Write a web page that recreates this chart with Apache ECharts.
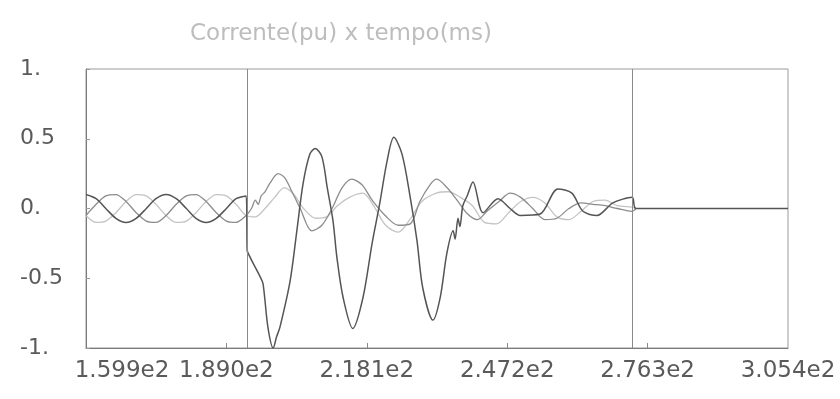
<!DOCTYPE html>
<html>
<head>
<meta charset="utf-8">
<script src="https://cdn.jsdelivr.net/npm/echarts@6/dist/echarts.min.js"></script>
<style>
  html, body { margin: 0; padding: 0; background: #fff; }
  #main { width: 840px; height: 399px; }
</style>
</head>
<body>
<div id="main"></div>
<script>
// tempo (ms) x corrente (pu)
var phaseA = [
  [159.9, 0.10], [162.0, 0.07], [164.0, 0.00], [166.1, -0.07], [168.2, -0.10], [170.3, -0.07],
  [172.4, 0.00], [174.4, 0.07], [176.5, 0.10], [178.6, 0.07], [180.7, 0.00], [182.7, -0.07],
  [184.8, -0.10], [186.9, -0.07], [189.0, 0.00], [191.0, 0.07], [193.1, 0.09],
  [193.3, -0.30], [193.5, -0.32], [194.5, -0.39], [196.0, -0.49], [196.6, -0.54], [197.6, -0.85],
  [198.7, -1.00], [199.4, -0.92], [200.1, -0.85], [202.2, -0.52], [203.6, -0.16], [204.9, 0.18],
  [206.3, 0.39], [207.4, 0.43], [208.8, 0.37], [209.9, 0.15], [211.1, -0.09], [211.9, -0.35],
  [213.2, -0.64], [215.2, -0.86], [217.3, -0.64], [219.2, -0.25], [220.8, 0.04], [222.3, 0.34],
  [223.7, 0.51], [225.4, 0.39], [227.1, 0.08], [228.5, -0.23], [229.7, -0.57], [231.8, -0.80],
  [233.3, -0.64], [234.7, -0.32], [236.0, -0.16], [236.4, -0.22], [237.0, -0.07], [237.4, -0.13],
  [238.0, 0.02], [238.9, 0.09], [240.1, 0.19], [242.2, -0.03], [245.3, 0.07], [247.8, 0.00],
  [249.9, -0.05], [254.0, -0.04], [257.7, 0.14], [260.6, 0.11], [262.9, -0.02], [265.8, -0.05],
  [269.1, 0.04], [273.1, 0.08], [273.9, 0.00], [305.4, 0.00]
];
var phaseB = [
  [159.9, -0.05], [162.0, 0.03], [164.0, 0.09], [166.1, 0.10], [168.2, 0.05], [170.3, -0.03],
  [172.4, -0.09], [174.4, -0.10], [176.5, -0.05], [178.6, 0.03], [180.7, 0.09], [182.7, 0.10],
  [184.8, 0.05], [186.9, -0.03], [189.0, -0.09], [191.0, -0.10], [193.1, -0.05],
  [194.2, 0.00], [195.0, 0.06], [195.6, 0.03], [196.2, 0.09], [197.0, 0.12], [198.0, 0.18],
  [199.7, 0.25], [201.1, 0.22], [202.6, 0.12], [204.3, 0.00], [206.7, -0.16], [208.8, -0.12],
  [210.9, 0.00], [213.0, 0.15], [215.0, 0.21], [217.1, 0.17], [219.2, 0.06], [221.9, -0.05],
  [224.6, -0.12], [227.1, -0.11], [229.1, 0.05], [231.2, 0.17], [232.6, 0.21], [234.7, 0.15],
  [236.8, 0.06], [239.0, -0.04], [241.0, -0.08], [243.0, -0.02], [245.5, 0.05], [247.8, 0.11],
  [250.0, 0.08], [252.5, 0.00], [255.0, -0.08], [257.5, -0.07], [260.0, 0.00], [262.5, 0.04],
  [265.0, 0.03], [267.5, 0.02], [270.0, 0.00], [273.1, -0.02], [273.9, 0.00]
];
var phaseC = [
  [159.9, -0.05], [162.0, -0.10], [164.0, -0.09], [166.1, -0.03], [168.2, 0.05], [170.3, 0.10],
  [172.4, 0.09], [174.4, 0.03], [176.5, -0.05], [178.6, -0.10], [180.7, -0.09], [182.7, -0.03],
  [184.8, 0.05], [186.9, 0.10], [189.0, 0.09], [191.0, 0.03], [193.1, -0.05],
  [195.0, -0.06], [197.0, 0.00], [199.0, 0.08], [201.0, 0.15], [203.0, 0.10], [205.0, 0.00],
  [207.5, -0.07], [209.8, -0.06], [212.0, 0.02], [214.5, 0.08], [217.3, 0.11], [219.5, 0.02],
  [222.0, -0.12], [224.6, -0.17], [227.0, -0.08], [229.5, 0.05], [232.5, 0.11], [235.0, 0.12],
  [237.5, 0.08], [240.0, 0.02], [242.5, -0.10], [245.0, -0.11], [247.5, -0.03], [250.0, 0.05],
  [252.5, 0.08], [255.0, 0.04], [257.5, -0.06], [260.0, -0.08], [262.5, -0.02], [265.0, 0.05],
  [267.5, 0.06], [270.0, 0.02], [273.1, 0.01], [273.9, 0.00]
];

var xTickValues = [159.9, 189.0, 218.1, 247.2, 276.3, 305.4];
var xTickLabels = ['1.599e2', '1.890e2', '2.181e2', '2.472e2', '2.763e2', '3.054e2'];
var yTickValues = [-1, -0.5, 0, 0.5, 1];
var yTickLabels = ['-1.', '-0.5', '0.', '0.5', '1.'];
var cursors = [193.3, 273.1];

var chart = echarts.init(document.getElementById('main'));

function line(name, data, color, width) {
  return {
    name: name,
    type: 'line',
    data: data,
    showSymbol: false,
    smooth: 0.3,
    lineStyle: { color: color, width: width },
    silent: true
  };
}

var sA = line('A', phaseA, '#555555', 1.5);
sA.markLine = {
  silent: true,
  symbol: ['none', 'none'],
  label: { show: false },
  lineStyle: { color: '#8a8a8a', width: 1, type: 'solid' },
  data: cursors.map(function (c) { return { xAxis: c }; })
};

chart.setOption({
  animation: false,
  backgroundColor: '#fff',
  textStyle: { fontFamily: 'DejaVu Sans' },
  title: {
    text: 'Corrente(pu) x tempo(ms)',
    left: 185,
    top: 18,
    textStyle: { fontFamily: 'DejaVu Sans', fontSize: 23, fontWeight: 'normal', color: '#bdbdbd' }
  },
  grid: {
    left: 86, right: 52, top: 69, bottom: 51,
    show: true, borderColor: '#9a9a9a', borderWidth: 1
  },
  xAxis: {
    type: 'value',
    min: 159.9,
    max: 305.4,
    splitLine: { show: false },
    axisLine: { onZero: false, lineStyle: { color: '#7a7a7a' } },
    axisTick: { inside: true, length: 5, customValues: xTickValues.slice(1, 5), lineStyle: { color: '#888' } },
    axisLabel: {
      customValues: xTickValues,
      margin: 12,
      fontSize: 23,
      color: '#5a5a5a',
      formatter: function (v) {
        var i = xTickValues.indexOf(v);
        var s = i >= 0 ? xTickLabels[i] : '';
        return i === 0 ? '{first|' + s + '}' : s;
      },
      rich: { first: { fontSize: 23, color: '#5a5a5a', padding: [0, 0, 0, 72] } }
    }
  },
  yAxis: {
    type: 'value',
    min: -1,
    max: 1,
    interval: 0.5,
    splitLine: { show: false },
    axisLine: { show: true, onZero: false, lineStyle: { color: '#7a7a7a' } },
    axisTick: { show: true, inside: true, length: 4, lineStyle: { color: '#999' } },
    axisLabel: {
      align: 'left',
      margin: 66,
      fontSize: 22,
      color: '#5a5a5a',
      formatter: function (v) {
        var i = yTickValues.indexOf(v);
        return i >= 0 ? yTickLabels[i] : '';
      }
    }
  },
  series: [
    line('C', phaseC, '#c4c4c4', 1.3),
    line('B', phaseB, '#8c8c8c', 1.3),
    sA
  ]
});
</script>
</body>
</html>
